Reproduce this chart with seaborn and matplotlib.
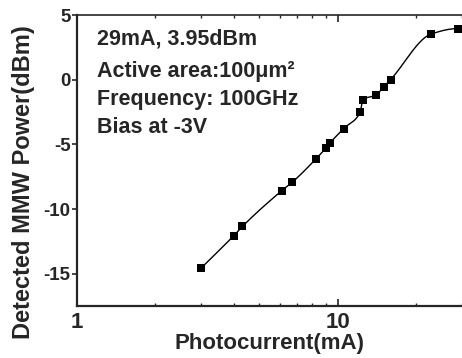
import numpy as np
import pandas as pd
import seaborn as sns
import matplotlib
matplotlib.use("Agg")
import matplotlib.pyplot as plt
from matplotlib import font_manager
from matplotlib.ticker import LogLocator, FixedLocator, NullFormatter, FixedFormatter

# ---- data ----
photocurrent = [3.0, 4.0, 4.31, 6.09, 6.68, 8.28, 9.0, 9.38, 10.55, 12.2, 12.5, 14.0, 15.0, 15.96, 22.85, 28.9]
power_dbm = [-14.55, -12.05, -11.35, -8.6, -7.95, -6.1, -5.3, -4.86, -3.78, -2.53, -1.55, -1.2, -0.57, 0.0, 3.53, 3.95]
x_ticks = [1, 10]
x_tick_labels = ["1", "10"]
y_ticks = [-15, -10, -5, 0, 5]
y_tick_labels = ["-15", "-10", "-5", "0", "5"]
notes = ["29mA, 3.95dBm", "Active area:100\u03bcm\u00b2", "Frequency: 100GHz", "Bias at -3V"]


def pchip(xk, yk, xq):
    xk = np.asarray(xk, float); yk = np.asarray(yk, float)
    h = np.diff(xk); d = np.diff(yk) / h
    n = len(xk); m = np.zeros(n)
    for i in range(1, n - 1):
        if d[i - 1] * d[i] > 0:
            w1 = 2 * h[i] + h[i - 1]; w2 = h[i] + 2 * h[i - 1]
            m[i] = (w1 + w2) / (w1 / d[i - 1] + w2 / d[i])
    m[0] = d[0]; m[-1] = 0.0
    idx = np.clip(np.searchsorted(xk, xq) - 1, 0, n - 2)
    t = (xq - xk[idx]) / h[idx]
    h00 = 2 * t**3 - 3 * t**2 + 1; h10 = t**3 - 2 * t**2 + t
    h01 = -2 * t**3 + 3 * t**2; h11 = t**3 - t**2
    return h00 * yk[idx] + h10 * h[idx] * m[idx] + h01 * yk[idx + 1] + h11 * h[idx] * m[idx + 1]


lx = np.log10(photocurrent)
lq = np.linspace(lx[0], lx[-1], 400)
curve = pd.DataFrame({"x": 10 ** lq, "y": pchip(lx, power_dbm, lq)})
pts = pd.DataFrame({"x": photocurrent, "y": power_dbm})

sns.set_style("ticks")

# pick a family that really has a bold face (Arial-like first)
chosen = "DejaVu Sans"
for fam in ["Liberation Sans", "Arimo", "Roboto", "Noto Sans", "Open Sans", "Lato", "Inter"]:
    try:
        f = font_manager.findfont(font_manager.FontProperties(family=fam, weight="bold"),
                                  fallback_to_default=False)
        fp = font_manager.FontProperties(fname=f)
        if fam.lower().replace(" ", "") in f.lower().replace(" ", "").replace("-", "").replace("_", "") \
                and ("bold" in f.lower()):
            chosen = fam
            break
    except Exception:
        pass
bold_file = font_manager.findfont(font_manager.FontProperties(family=chosen, weight="bold"))
BF = font_manager.FontProperties(fname=bold_file)

plt.rcParams["font.family"] = [chosen, "DejaVu Sans"]
plt.rcParams["font.weight"] = "bold"

fig = plt.figure(figsize=(4.62, 3.58), dpi=100)
ax = fig.add_axes([77 / 462, 1 - 306 / 358, 1 - 77 / 462, (306 - 15) / 358])

sns.lineplot(data=curve, x="x", y="y", ax=ax, color="black", linewidth=1.0, sort=False)
sns.scatterplot(data=pts, x="x", y="y", ax=ax, marker="s", color="black", s=34,
                edgecolor="black", linewidth=0, zorder=3)

ax.set_xscale("log")
ax.set_xlim(1, 30)
ax.set_ylim(-17.5, 5)

ax.xaxis.set_major_locator(FixedLocator(x_ticks))
ax.xaxis.set_major_formatter(FixedFormatter(x_tick_labels))
ax.xaxis.set_minor_locator(LogLocator(base=10, subs=np.arange(2, 10)))
ax.xaxis.set_minor_formatter(NullFormatter())
ax.yaxis.set_major_locator(FixedLocator(y_ticks))
ax.yaxis.set_major_formatter(FixedFormatter(y_tick_labels))

ax.tick_params(axis="x", which="major", direction="in", length=5, width=1.2, top=True, pad=4)
ax.tick_params(axis="x", which="minor", direction="in", length=2.5, width=1.0, top=True)
ax.tick_params(axis="y", which="major", direction="out", length=3.5, width=1.2, pad=1)
for lab in ax.get_xticklabels():
    lab.set_fontproperties(BF); lab.set_fontsize(16)
for lab in ax.get_yticklabels():
    lab.set_fontproperties(BF); lab.set_fontsize(13.5)

for s in ["left", "bottom"]:
    ax.spines[s].set_linewidth(1.6)
ax.spines["top"].set_linewidth(1.2)
ax.spines["right"].set_visible(False)

ax.set_xlabel("Photocurrent(mA)", fontproperties=BF, fontsize=16, labelpad=0)
ax.set_ylabel("")
fig.text(24 / 462, 1 - 182 / 358, "Detected MMW Power(dBm)", rotation=90,
         fontproperties=BF, fontsize=17, ha="center", va="center")

baselines = [45, 77, 105, 133]
for txt, yb in zip(notes, baselines):
    fig.text(97 / 462, 1 - yb / 358, txt, fontproperties=BF, fontsize=15.5,
             ha="left", va="baseline")

fig.savefig("out.png", dpi=100)
